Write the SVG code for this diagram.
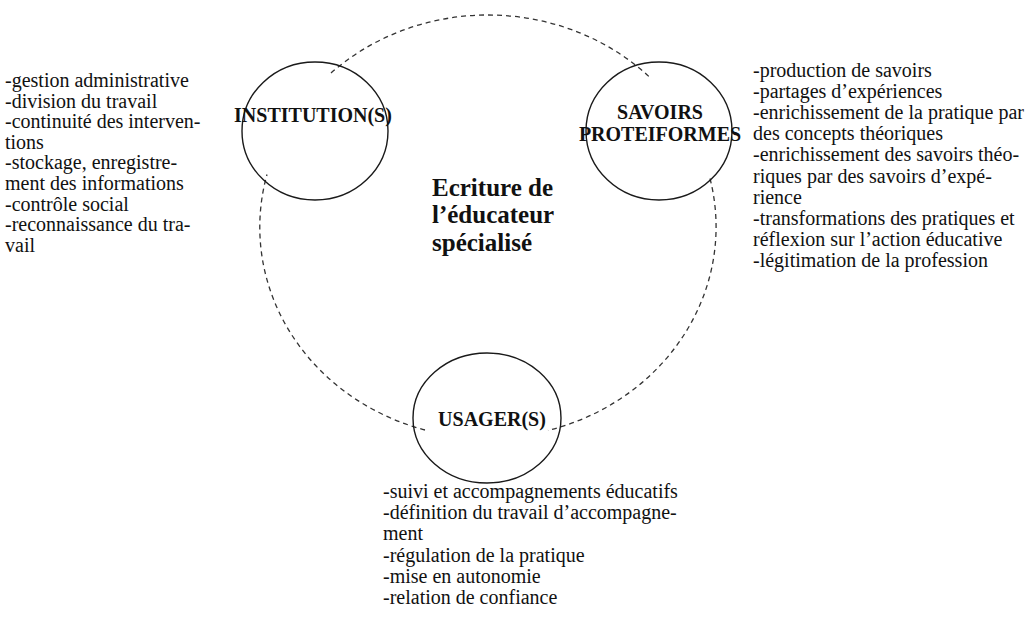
<svg xmlns="http://www.w3.org/2000/svg" width="1028" height="619" viewBox="0 0 1028 619">
<style>
.bg{fill:#ffffff}
.node{fill:none;stroke:#1a1a1a;stroke-width:1.4}
.dash{fill:none;stroke:#333333;stroke-width:1.3;stroke-dasharray:5 4}
.lbl{font-family:"Liberation Serif","Times New Roman",serif;font-weight:bold;font-size:20px;fill:#111111}
.title{font-family:"Liberation Serif","Times New Roman",serif;font-weight:bold;font-size:25px;fill:#111111}
.body{font-family:"Liberation Serif","Times New Roman",serif;font-size:20px;fill:#111111}
</style>
<rect class="bg" x="0" y="0" width="1028" height="619"/>
<g id="connectors">
<path class="dash" d="M 331 73 A 228 211 0 0 1 650 77.5"/>
<path class="dash" d="M 710 178.5 A 228 211 0 0 1 548 430.5"/>
<path class="dash" d="M 425 430 A 228 211 0 0 1 267 174.5"/>
</g>
<g id="center-title">
<text class="title" x="432" y="196">Ecriture de</text>
<text class="title" x="432" y="223">l’éducateur</text>
<text class="title" x="432" y="251">spécialisé</text>
</g>
<g id="institution">
<ellipse class="node" cx="315" cy="131" rx="73" ry="69"/>
<text class="lbl" x="313" y="122" text-anchor="middle">INSTITUTION(S)</text>
</g>
<g id="savoirs">
<ellipse class="node" cx="659" cy="131" rx="73" ry="69"/>
<text class="lbl" x="660" y="119" text-anchor="middle">SAVOIRS</text>
<text class="lbl" x="660" y="141" text-anchor="middle">PROTEIFORMES</text>
</g>
<g id="usagers">
<ellipse class="node" cx="487" cy="418" rx="74" ry="65"/>
<text class="lbl" x="492" y="426" text-anchor="middle">USAGER(S)</text>
</g>
<g id="institution-notes">
<text class="body" x="5" y="87">-gestion administrative</text>
<text class="body" x="5" y="107.6">-division du travail</text>
<text class="body" x="5" y="128.2">-continuité des interven-</text>
<text class="body" x="5" y="148.8">tions</text>
<text class="body" x="5" y="169.4">-stockage, enregistre-</text>
<text class="body" x="5" y="190">ment des informations</text>
<text class="body" x="5" y="210.6">-contrôle social</text>
<text class="body" x="5" y="231.2">-reconnaissance du tra-</text>
<text class="body" x="5" y="251.8">vail</text>
</g>
<g id="savoirs-notes">
<text class="body" x="753" y="77">-production de savoirs</text>
<text class="body" x="753" y="98.1">-partages d’expériences</text>
<text class="body" x="753" y="119.2">-enrichissement de la pratique par</text>
<text class="body" x="753" y="140.3">des concepts théoriques</text>
<text class="body" x="753" y="161.4">-enrichissement des savoirs théo-</text>
<text class="body" x="753" y="182.5">riques par des savoirs d’expé-</text>
<text class="body" x="753" y="203.6">rience</text>
<text class="body" x="753" y="224.7">-transformations des pratiques et</text>
<text class="body" x="753" y="245.8">réflexion sur l’action éducative</text>
<text class="body" x="753" y="266.9">-légitimation de la profession</text>
</g>
<g id="usagers-notes">
<text class="body" x="383" y="498">-suivi et accompagnements éducatifs</text>
<text class="body" x="383" y="519.2">-définition du travail d’accompagne-</text>
<text class="body" x="383" y="540.4">ment</text>
<text class="body" x="383" y="561.6">-régulation de la pratique</text>
<text class="body" x="383" y="582.8">-mise en autonomie</text>
<text class="body" x="383" y="604">-relation de confiance</text>
</g>
</svg>
